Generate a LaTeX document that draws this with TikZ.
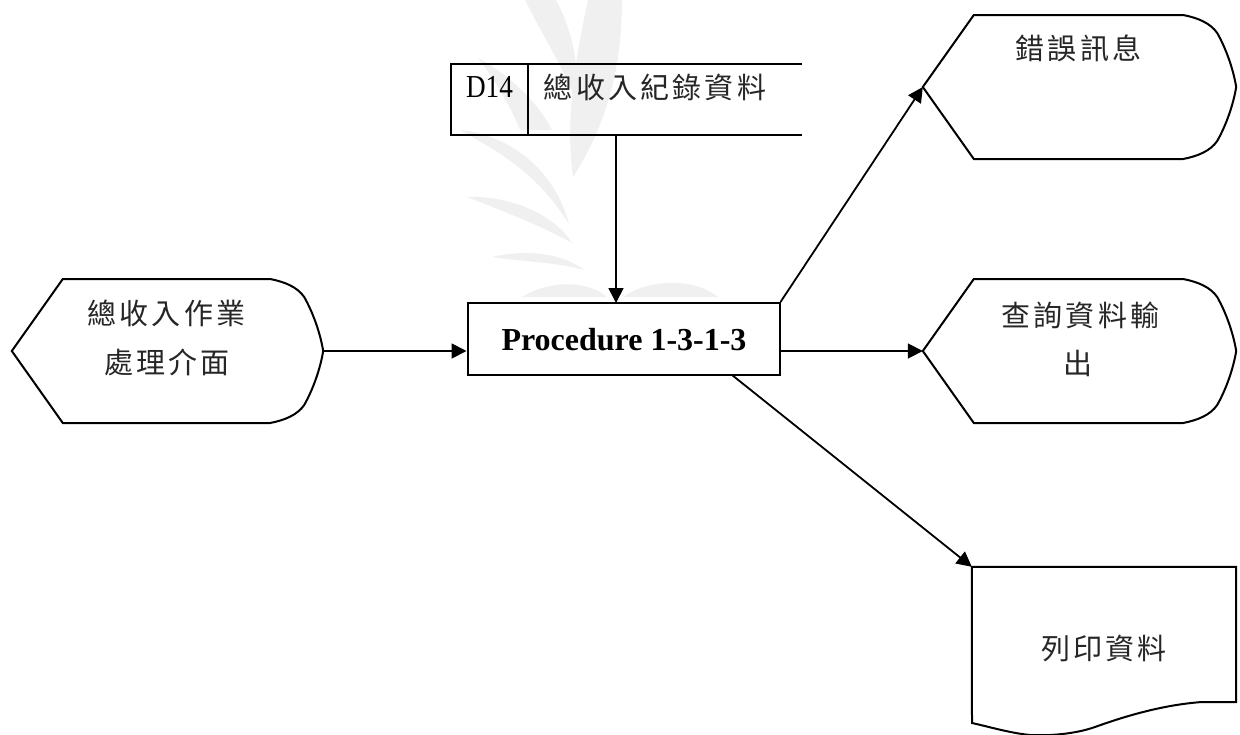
\documentclass[tikz,border=0pt]{standalone}
\usepackage{fontspec}
\usetikzlibrary{arrows.meta,calc}
\setmainfont{Liberation Serif}
\newfontfamily\cjk[LetterSpace=11]{Noto Sans CJK TC}
\newfontfamily\narrowf[FakeStretch=0.85]{Liberation Serif}
\tikzset{
  x=1pt,y=-1pt,
  outline/.style={draw=black,line width=2pt,line join=miter},
  conn/.style={draw=black,line width=1.8pt,-{Triangle[length=15pt,width=15pt]}},
  wm/.style={fill=black!6,draw=none},
  holder/.style={draw=none,inner sep=0pt,minimum height=144pt},
  cjklabel/.style={inner sep=0pt,font=\fontsize{29}{29}\selectfont\cjk,text=black!85},
  proclabel/.style={draw=black,fill=white,line width=2pt,inner sep=0pt,minimum width=312pt,minimum height=72pt},
}
\newcommand{\dispshape}[3]{%
  \node[holder,minimum width=#3] (#1) at (#2) {};
  \draw[outline] (#1.west) -- ++(51,-72) -- ($(#1.east)+(-53,-72)$)
    .. controls ($(#1.east)+(-38,-69)$) and ($(#1.east)+(-26,-64)$) .. ($(#1.east)+(-19,-54)$)
    .. controls ($(#1.east)+(-10,-38)$) and ($(#1.east)+(-3,-18)$) .. (#1.east)
    .. controls ($(#1.east)+(-3,18)$) and ($(#1.east)+(-10,38)$) .. ($(#1.east)+(-19,54)$)
    .. controls ($(#1.east)+(-26,64)$) and ($(#1.east)+(-38,69)$) .. ($(#1.east)+(-53,72)$)
    -- ($(#1.west)+(51,72)$) -- cycle;
}
\begin{document}
\begin{tikzpicture}
\useasboundingbox (0,0) rectangle (1240,734);
% watermark
\fill[wm] (588,0) -- (622,0) .. controls (622,60) and (610,120) .. (573,177) .. controls (565,120) and (575,60) .. cycle;
\fill[wm] (525,0) -- (556,0) .. controls (572,30) and (578,60) .. (580,110) .. controls (565,70) and (545,40) .. cycle;
\fill[wm] (478,58) .. controls (510,75) and (540,105) .. (552,130) -- (520,130) .. controls (510,105) and (495,80) .. cycle;
\fill[wm] (460,130) .. controls (510,135) and (555,170) .. (569,224) .. controls (535,170) and (495,150) .. cycle;
\fill[wm] (467,197) .. controls (510,195) and (555,215) .. (572,243) .. controls (540,225) and (500,210) .. cycle;
\fill[wm] (492,257) .. controls (530,248) and (565,255) .. (584,270) .. controls (555,262) and (525,262) .. cycle;
\fill[wm] (522,297) .. controls (545,282) and (585,278) .. (607,297) -- cycle;
\fill[wm] (623,297) .. controls (650,278) and (695,278) .. (718,297) -- cycle;

% shapes
\dispshape{input}{167.5,351}{311pt}
\dispshape{error}{1079.5,87}{313pt}
\dispshape{query}{1079.5,351}{313pt}

\draw[outline] (802,64) -- (451,64) -- (451,135) -- (802,135) (528,64) -- (528,135);
\node[draw=none,inner sep=0pt,minimum width=351pt,minimum height=71pt] (store) at (626.5,99.5) {};
\coordinate (storeout) at (616,135);

\node[proclabel] (proc) at (623.5,339) {};
\node[inner sep=0pt,font=\fontsize{32}{32}\selectfont\bfseries] (proctext) at (624,340) {Procedure 1-3-1-3};
\coordinate (procin) at (616,303);
\coordinate (procout) at (732,375);

\node[draw=none,inner sep=0pt,minimum width=264pt,minimum height=167pt] (print) at (1104,650.5) {};
\draw[outline] (print.north west) -- (print.north east) -- (1236,702) -- (1202,702)
  .. controls (1160,705) and (1120,718) .. (1095,727)
  .. controls (1075,734) and (1050,736) .. (1030,735)
  .. controls (1010,733) and (990,727) .. (972,723) -- cycle;

% labels
\node[inner sep=0pt,font=\fontsize{32}{32}\selectfont\narrowf] (d14) at (489.5,87) {D14};
\node[cjklabel] (t1) at (655,87) {總收入紀錄資料};
\node[cjklabel] (t2) at (166.5,313) {總收入作業};
\node[cjklabel] (t3) at (167,362) {處理介面};
\node[cjklabel] (t4) at (1078.5,48) {錯誤訊息};
\node[cjklabel] (t5) at (1080.5,315) {查詢資料輸};
\node[cjklabel] (t6) at (1078,363) {出};
\node[cjklabel] (t7) at (1104,648) {列印資料};

% connectors
\draw[conn] (input.east) -- (proc.west |- input.east);
\draw[conn] (storeout) -- (procin);
\draw[conn] (proc.north east) -- (error.west);
\draw[conn] (proc.east |- query.west) -- (query.west);
\draw[conn] (procout) -- (print.north west);
\end{tikzpicture}
\end{document}
